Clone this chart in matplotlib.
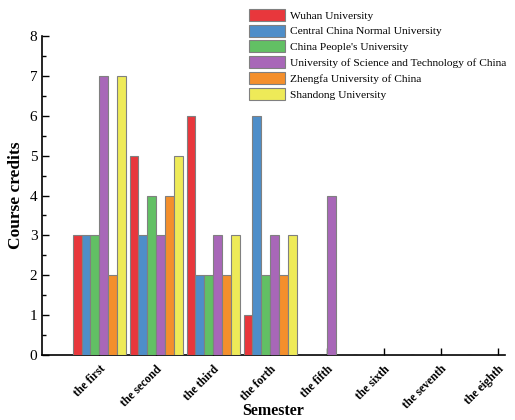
import matplotlib.pyplot as plt
import numpy as np

plt.rcParams['font.family'] = ['Liberation Serif', 'DejaVu Serif']

semesters = ['the first', 'the second', 'the third', 'the forth',
             'the fifth', 'the sixth', 'the seventh', 'the eighth']
universities = ['Wuhan University', 'Central China Normal University',
                "China People's University",
                'University of Science and Technology of China',
                'Zhengfa University of China', 'Shandong University']
wuhan = [3, 5, 6, 1, 0, 0, 0, 0]
ccnu = [3, 3, 2, 6, 0, 0, 0, 0]
renmin = [3, 4, 2, 2, 0, 0, 0, 0]
ustc = [7, 3, 3, 3, 4, 0, 0, 0]
zhengfa = [2, 4, 2, 2, 0, 0, 0, 0]
shandong = [7, 5, 3, 3, 0, 0, 0, 0]
series = [wuhan, ccnu, renmin, ustc, zhengfa, shandong]
colors = ['#e8373c', '#4e8ec9', '#62c064', '#a867b8', '#f48f2c', '#eeea58']

fig = plt.figure(figsize=(5.15, 4.2), dpi=100)
ax = fig.add_axes([0.082, 0.155, 0.898, 0.759])

x = np.arange(len(semesters))
w = 0.155
for i, (vals, c, name) in enumerate(zip(series, colors, universities)):
    ax.bar(x + (i - 2.5) * w, vals, width=w, color=c, edgecolor='#808080',
           linewidth=0.8, label=name, zorder=3)

ax.set_xlim(-1.0, 7.12)
ax.set_ylim(0, 8)
ax.set_xticks(x)
ax.set_xticklabels(semesters, rotation=45, ha='right', rotation_mode='anchor',
                   fontsize=8.5, fontweight='bold')
ax.set_yticks(range(0, 9))
ax.set_yticks(np.arange(0, 8.5, 0.5), minor=True)
ax.tick_params(axis='y', labelsize=11, direction='in', length=5, width=1)
ax.tick_params(axis='y', which='minor', direction='in', length=3, width=1)
ax.tick_params(axis='x', direction='in', length=5, width=1, pad=6)
for s in ['top', 'right']:
    ax.spines[s].set_visible(False)
for s in ['left', 'bottom']:
    ax.spines[s].set_linewidth(1.2)

ax.set_xlabel('Semester', fontsize=11.5, fontweight='bold', labelpad=-6)
ax.set_ylabel('Course credits', fontsize=12.5, fontweight='bold')

fig.legend(loc='upper left', bbox_to_anchor=(0.468, 0.998), frameon=False,
           fontsize=8.2, handlelength=3.2, handleheight=1.25, labelspacing=0.33,
           handletextpad=0.4, borderpad=0.2)

fig.savefig('out.png', dpi=100)
